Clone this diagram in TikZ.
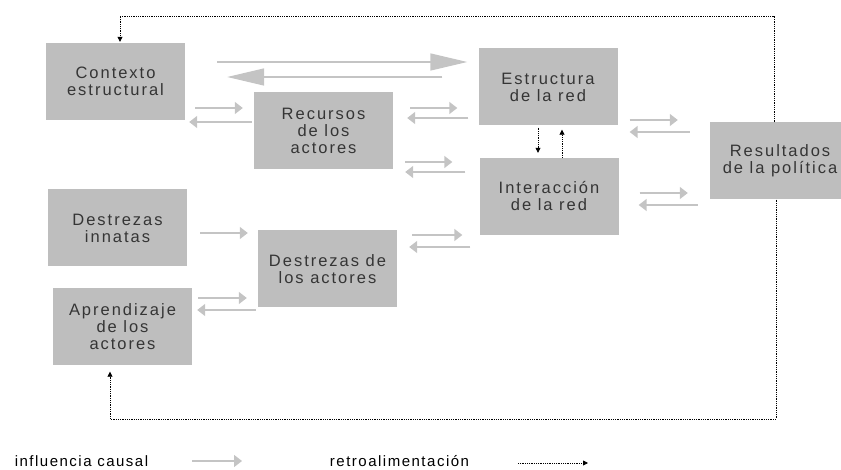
\documentclass[tikz,border=0pt]{standalone}
\usepackage{fontspec}
\usetikzlibrary{arrows.meta}
\newfontfamily\cajafont[LetterSpace=12]{Liberation Sans}
\newfontfamily\leyendafont[LetterSpace=10]{Liberation Sans}
\definecolor{griscaja}{HTML}{BEBEBE}
\definecolor{grisflecha}{HTML}{C4C4C4}
\definecolor{gristexto}{HTML}{353535}
\tikzset{
    caja/.style={fill=griscaja, minimum width=139pt, minimum height=77pt, inner sep=0pt,
        align=center, text=gristexto, font=\cajafont\fontsize{16.5}{17}\selectfont},
    causal/.style={draw=grisflecha, line width=1.5pt, -{Triangle[length=8pt,width=12pt]}},
    grande/.style={draw=grisflecha, line width=1.5pt, -{Triangle[length=37pt,width=17pt]}},
    retro/.style={densely dotted, line width=0.8pt, -{Triangle[length=5pt,width=5pt]}},
    leyenda/.style={font=\leyendafont\fontsize{15}{17}\selectfont, inner sep=0pt}
}
\begin{document}
\begin{tikzpicture}[x=1pt, y=-1pt]
    \useasboundingbox (0,0) rectangle (841,470);

    \node[caja] (ctx) at (115.5,81.5) {Contexto\\estructural};
    \node[caja] (rec) at (323.5,131) {Recursos\\de los\\actores};
    \node[caja] (est) at (548,87) {Estructura\\de la red};
    \node[caja] (int) at (549,196.5) {Interacción\\de la red};
    \node[caja, minimum width=140pt] (res) at (780,161) {Resultados\\de la política};
    \node[caja] (inn) at (117.5,228) {Destrezas\\innatas};
    \node[caja] (dac) at (327.5,269) {Destrezas de\\los actores};
    \node[caja] (apr) at (122.5,327) {Aprendizaje\\de los\\actores};

    % influencia causal
    \draw[grande, shorten <=32pt, shorten >=11pt] ([yshift=19.5pt]ctx.east) -- ([yshift=25pt]est.west);
    \draw[grande, shorten <=36pt, shorten >=42pt] ([yshift=10pt]est.west) -- ([yshift=4.5pt]ctx.east);
    \draw[causal, shorten <=10pt, shorten >=11pt] ([yshift=-26.5pt]ctx.east) -- ([yshift=23pt]rec.west);
    \draw[causal, shorten <=2pt, shorten >=4pt] ([yshift=9pt]rec.west) -- ([yshift=-40.5pt]ctx.east);
    \draw[causal, shorten <=17pt, shorten >=21pt] ([yshift=23pt]rec.east) -- ([yshift=-21pt]est.west);
    \draw[causal, shorten <=10pt, shorten >=14pt] ([yshift=-31pt]est.west) -- ([yshift=13pt]rec.east);
    \draw[causal, shorten <=12pt, shorten >=27pt] ([yshift=-31pt]rec.east) -- ([yshift=34.5pt]int.west);
    \draw[causal, shorten <=14pt, shorten >=12pt] ([yshift=24.5pt]int.west) -- ([yshift=-41pt]rec.east);
    \draw[causal, shorten <=13pt, shorten >=10pt] ([yshift=-5pt]inn.east) -- ([yshift=36pt]dac.west);
    \draw[causal, shorten <=6pt, shorten >=11pt] ([yshift=29pt]apr.east) -- ([yshift=-29pt]dac.west);
    \draw[causal, shorten <=2pt, shorten >=5pt] ([yshift=-41pt]dac.west) -- ([yshift=17pt]apr.east);
    \draw[causal, shorten <=15pt, shorten >=17pt] ([yshift=34pt]dac.east) -- ([yshift=-38.5pt]int.west);
    \draw[causal, shorten <=9pt, shorten >=12pt] ([yshift=-50.5pt]int.west) -- ([yshift=22pt]dac.east);
    \draw[causal, shorten <=12pt, shorten >=32pt] ([yshift=-33pt]est.east) -- ([yshift=41pt]res.west);
    \draw[causal, shorten <=20pt, shorten >=12pt] ([yshift=29pt]res.west) -- ([yshift=-45pt]est.east);
    \draw[causal, shorten <=21pt, shorten >=22pt] ([yshift=3.5pt]int.east) -- ([yshift=-32pt]res.west);
    \draw[causal, shorten <=12pt, shorten >=20pt] ([yshift=-44pt]res.west) -- ([yshift=-8.5pt]int.east);

    % retroalimentacion
    \coordinate (arriba) at (0,16);
    \coordinate (abajo) at (0,419);
    \draw[retro, shorten >=1pt] ([xshift=-6pt]res.north) -- ([xshift=-6pt]res.north |- arriba)
        -- ([xshift=4.5pt]ctx.north |- arriba) -- ([xshift=4.5pt]ctx.north);
    \draw[retro, shorten >=6pt] ([xshift=-4pt]res.south) -- ([xshift=-4pt]res.south |- abajo)
        -- ([xshift=-12.5pt]apr.south |- abajo) -- ([xshift=-12.5pt]apr.south);
    \draw[retro, shorten <=2pt, shorten >=5pt] ([xshift=-10pt]est.south) -- ([xshift=-11pt]int.north);
    \draw[retro, shorten <=0pt, shorten >=4pt] ([xshift=13pt]int.north) -- ([xshift=14pt]est.south);

    % leyenda
    \node[leyenda] (lcausal) at (81.5,461) {influencia causal};
    \coordinate (ic) at (192,461);
    \coordinate (fc) at (242,461);
    \draw[causal] (ic) -- (fc);
    \node[leyenda] (lretro) at (399.5,461) {retroalimentación};
    \coordinate (ir) at (518,463);
    \coordinate (fr) at (588,463);
    \draw[retro] (ir) -- (fr);
\end{tikzpicture}
\end{document}
